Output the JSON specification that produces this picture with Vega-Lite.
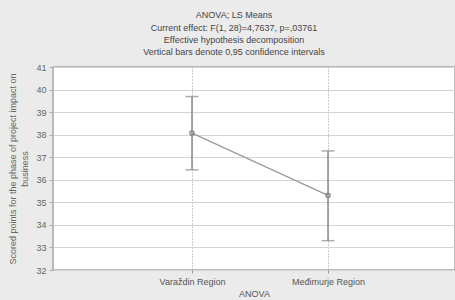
{
  "$schema": "https://vega.github.io/schema/vega-lite/v6.json",
  "autosize": "none",
  "padding": {"left": 53, "top": 67, "right": 0, "bottom": 30},
  "width": 402,
  "height": 203,
  "background": "#ebebeb",
  "title": {
    "text": ["ANOVA; LS Means", "Current effect: F(1, 28)=4,7637, p=,03761", "Effective hypothesis decomposition", "Vertical bars denote 0,95 confidence intervals"],
    "font": "Liberation Sans",
    "fontSize": 9,
    "fontWeight": "normal",
    "color": "#444",
    "lineHeight": 12.2,
    "anchor": "middle",
    "dx": -20,
    "offset": 6
  },
  "data": {
    "values": [
      {"region": "Varaždin Region", "mean": 38.07, "lower": 36.44, "upper": 39.69},
      {"region": "Međimurje Region", "mean": 35.31, "lower": 33.3, "upper": 37.28}
    ]
  },
  "encoding": {
    "x": {
      "field": "region", "type": "nominal", "sort": null,
      "scale": {"type": "point", "padding": 0.978, "align": 0.5226},
      "axis": {
        "title": "ANOVA", "labelAngle": 0, "grid": true, "gridDash": [1, 2], "gridColor": "#999",
        "domain": false, "tickSize": 3, "tickColor": "#999",
        "labelFont": "Liberation Sans", "labelFontSize": 9, "labelColor": "#555", "labelPadding": 4,
        "titleFont": "Liberation Sans", "titleFontSize": 9, "titleColor": "#555", "titleFontWeight": "normal", "titlePadding": 3
      }
    }
  },
  "layer": [
    {
      "mark": {"type": "rule", "color": "#8a8a8a", "strokeWidth": 1.5},
      "encoding": {
        "y": {
          "field": "lower", "type": "quantitative",
          "scale": {"domain": [32, 41], "nice": false, "zero": false},
          "axis": {
            "title": ["Scored points for the phase of project impact on", "business"],
            "values": [32, 33, 34, 35, 36, 37, 38, 39, 40, 41],
            "tickCount": 10,
            "labelOverlap": false
          }
        },
        "y2": {"field": "upper"}
      }
    },
    {
      "mark": {"type": "tick", "color": "#8a8a8a", "thickness": 1.5, "size": 13},
      "encoding": {"y": {"field": "lower", "type": "quantitative", "axis": {"values": [32, 33, 34, 35, 36, 37, 38, 39, 40, 41], "tickCount": 10, "labelOverlap": false}}}
    },
    {
      "mark": {"type": "tick", "color": "#8a8a8a", "thickness": 1.5, "size": 13},
      "encoding": {"y": {"field": "upper", "type": "quantitative", "axis": {"values": [32, 33, 34, 35, 36, 37, 38, 39, 40, 41], "tickCount": 10, "labelOverlap": false}}}
    },
    {
      "mark": {"type": "line", "color": "#999", "strokeWidth": 1.2, "point": {"filled": false, "color": "#888", "size": 20, "strokeWidth": 1.2}},
      "encoding": {"y": {"field": "mean", "type": "quantitative", "axis": {"values": [32, 33, 34, 35, 36, 37, 38, 39, 40, 41], "tickCount": 10, "labelOverlap": false}}}
    }
  ],
  "config": {
    "view": {"fill": "white", "stroke": "#a8a8a8", "strokeWidth": 1.5},
    "axisY": {
      "grid": true, "gridColor": "#d4d4d4", "gridWidth": 1,
      "domain": false, "tickSize": 4, "tickColor": "#aaa",
      "labelFont": "Liberation Sans", "labelFontSize": 9, "labelColor": "#666", "labelPadding": 3, "labelOverlap": false,
      "titleFont": "Liberation Sans", "titleFontSize": 9, "titleColor": "#666", "titleFontWeight": "normal", "titlePadding": 6, "titleLineHeight": 12
    }
  }
}
